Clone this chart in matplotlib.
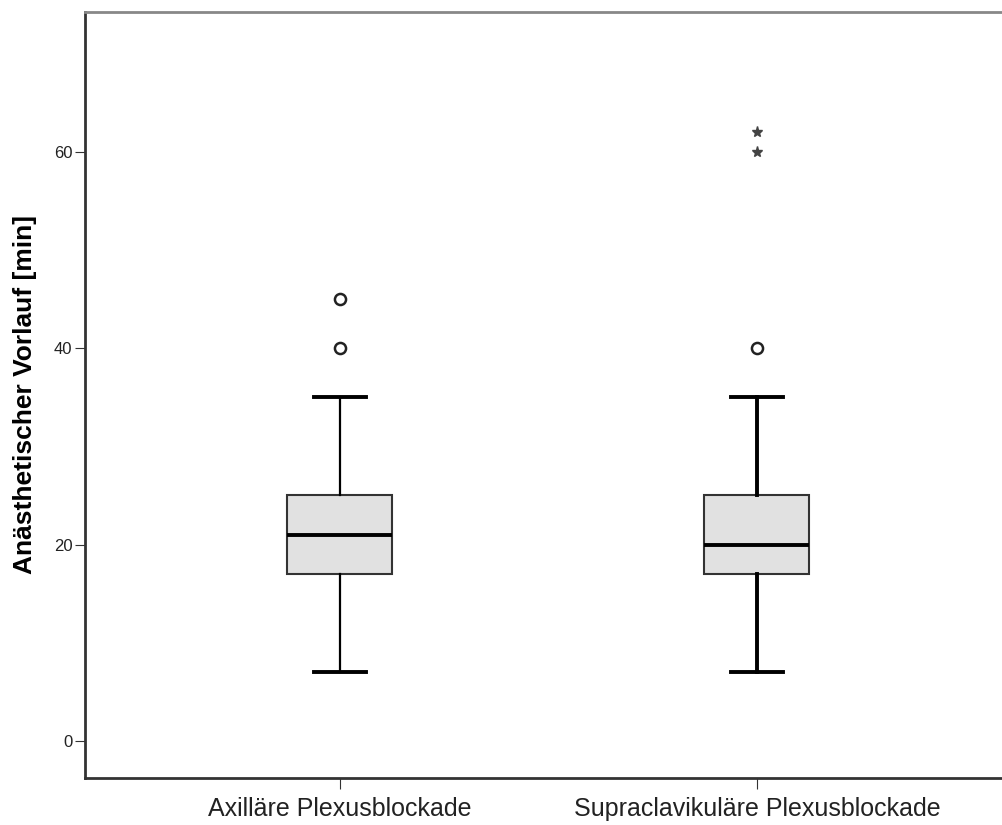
import matplotlib.pyplot as plt

plt.rcParams['font.family'] = ['Liberation Sans', 'DejaVu Sans']

groups = ["Axilläre Plexusblockade", "Supraclavikuläre Plexusblockade"]
whisker_low = [7, 7]
q1 = [17, 17]
median = [21, 20]
q3 = [25, 25]
whisker_high = [35, 35]
outliers = [[40, 45], [40]]       # circles
extremes = [[], [60, 62]]         # stars
y_ticks = [0, 20, 40, 60]


def main():
    fig = plt.figure(figsize=(10.02, 8.25), dpi=100)
    ax = fig.add_axes([85 / 1002, 1 - 778 / 825, 930 / 1002, (778 - 12) / 825])

    stats = []
    for i, name in enumerate(groups):
        stats.append(dict(label=name, whislo=whisker_low[i], q1=q1[i], med=median[i],
                          q3=q3[i], whishi=whisker_high[i], fliers=[]))

    positions = [1, 2]
    bp = ax.bxp(stats, positions=positions, widths=0.252, patch_artist=True,
                showfliers=False, manage_ticks=False,
                boxprops=dict(facecolor="#e1e1e1", edgecolor="#333333", linewidth=1.5),
                medianprops=dict(color="black", linewidth=2.8),
                whiskerprops=dict(color="black", linewidth=1.6),
                capprops=dict(color="black", linewidth=2.8))
    for cap in bp["caps"]:
        x0, x1 = cap.get_xdata()
        c = (x0 + x1) / 2
        cap.set_xdata([c - 0.0625, c + 0.0625])
    # second group's whiskers are drawn heavier in the original
    for w in bp["whiskers"][2:]:
        w.set_linewidth(2.8)

    for pos, vals in zip(positions, outliers):
        if vals:
            ax.plot([pos] * len(vals), vals, linestyle="none", marker="o",
                    markersize=8, markerfacecolor="white", markeredgecolor="#222222",
                    markeredgewidth=1.8)
    for pos, vals in zip(positions, extremes):
        if vals:
            ax.plot([pos] * len(vals), vals, linestyle="none", marker="*",
                    markersize=8, color="#444444")

    ax.set_xlim(0.389, 2.619)
    ax.set_ylim(-3.76, 74.2)
    ax.set_yticks(y_ticks)
    ax.set_xticks(positions)
    ax.set_xticklabels(groups, fontsize=18, color="#222222")
    ax.tick_params(axis="y", labelsize=12, length=7, color="#333333", pad=2,
                   labelcolor="#222222")
    ax.tick_params(axis="x", length=8, color="#333333", pad=6)
    ax.set_ylabel("Anästhetischer Vorlauf [min]", fontsize=19, fontweight="bold", labelpad=12)

    for side in ["left", "bottom"]:
        ax.spines[side].set_color("#333333")
        ax.spines[side].set_linewidth(2)
    ax.spines["top"].set_color("#888888")
    ax.spines["top"].set_linewidth(2)
    ax.spines["right"].set_visible(False)

    fig.savefig("out.png", dpi=100)


if __name__ == "__main__":
    main()
